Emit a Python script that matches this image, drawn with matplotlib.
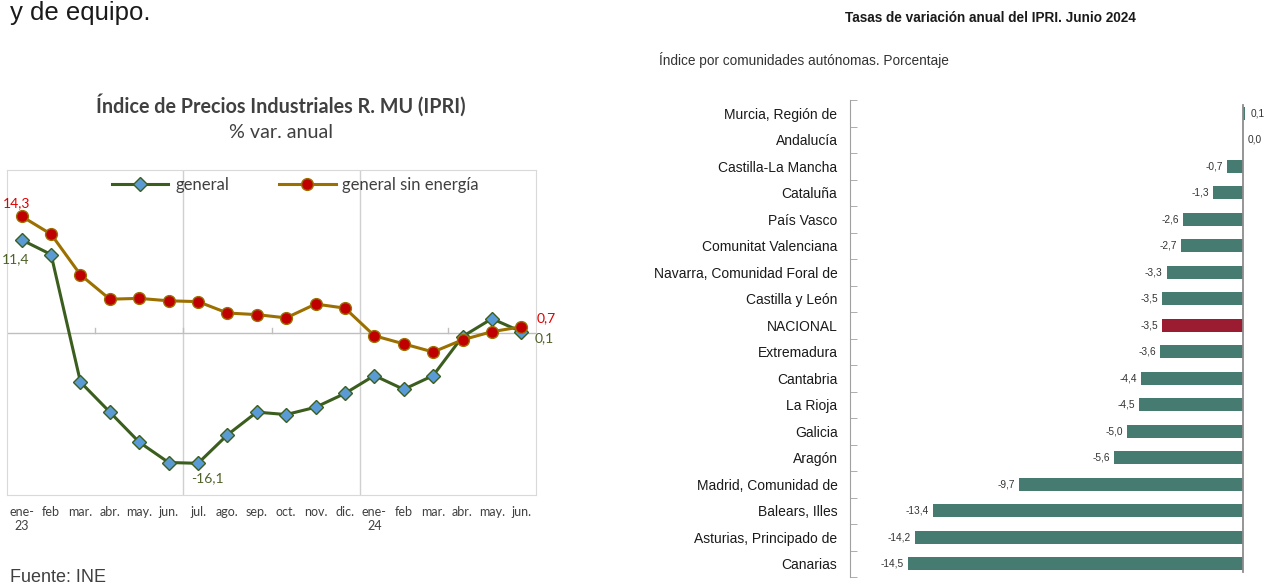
import matplotlib.pyplot as plt
import numpy as np

# serie mensual IPRI Región de Murcia (% var. anual)
meses = ['ene-\n23', 'feb', 'mar.', 'abr.', 'may.', 'jun.', 'jul.', 'ago.', 'sep.', 'oct.', 'nov.', 'dic.',
         'ene-\n24', 'feb', 'mar.', 'abr.', 'may.', 'jun.']
general = [11.4, 9.6, -6.1, -9.8, -13.5, -16.0, -16.1, -12.6, -9.8, -10.1, -9.2, -7.5,
           -5.3, -7.0, -5.3, -0.5, 1.7, 0.1]
sin_energia = [14.3, 12.1, 7.1, 4.1, 4.2, 3.9, 3.8, 2.4, 2.2, 1.8, 3.5, 3.0,
               -0.4, -1.4, -2.4, -0.9, 0.1, 0.7]

# tasas por comunidades, junio 2024
ccaa = ['Murcia, Región de', 'Andalucía', 'Castilla-La Mancha', 'Cataluña', 'País Vasco',
        'Comunitat Valenciana', 'Navarra, Comunidad Foral de', 'Castilla y León', 'NACIONAL',
        'Extremadura', 'Cantabria', 'La Rioja', 'Galicia', 'Aragón', 'Madrid, Comunidad de',
        'Balears, Illes', 'Asturias, Principado de', 'Canarias']
tasas = [0.1, 0.0, -0.7, -1.3, -2.6, -2.7, -3.3, -3.5, -3.5, -3.6, -4.4, -4.5, -5.0, -5.6,
         -9.7, -13.4, -14.2, -14.5]

calibri = ['Lato', 'DejaVu Sans']
narrow = ['Liberation Sans', 'DejaVu Sans']
W, H = 1276, 587


def coma(v):
    return f'{v:.1f}'.replace('.', ',')


fig = plt.figure(figsize=(W / 100, H / 100), dpi=100)

fig.text(10 / W, 1 - 20 / H, 'y de equipo.', fontsize=18.5, family='Liberation Sans',
         color='#1a1a1a', va='baseline')
fig.text(10 / W, 1 - 578 / H, 'Fuente: INE', fontsize=13, family='Liberation Sans',
         color='#404040', va='center')

# ---- grafico de lineas ----
ax = fig.add_axes([7 / W, 92 / H, 529 / W, 325 / H])
x = np.arange(len(meses))
ax.axhline(0, color='#bfbfbf', lw=1, zorder=1)
for g in (5.5, 11.5):
    ax.axvline(g, color='#d0d0d0', lw=1, zorder=1)
for t in (2.5, 5.5, 8.5, 11.5, 14.5):
    ax.plot([t, t], [0, 0.6], color='#bfbfbf', lw=1, zorder=1)

ax.plot(x, general, color='#3b5e1f', lw=2.2, marker='D', ms=7, mfc='#5b9bd5',
        mec='#3b5e1f', mew=1, label='general', zorder=3)
ax.plot(x, sin_energia, color='#9c7000', lw=2.2, marker='o', ms=8.5, mfc='#c00000',
        mec='#9c7000', mew=1, label='general sin energía', zorder=4)

ax.set_xlim(-0.5, 17.5)
ax.set_ylim(-20, 20)
ax.set_yticks([])
ax.set_xticks(x)
ax.set_xticklabels(meses, fontsize=9, color='#404040', family=calibri, linespacing=1.2)
ax.tick_params(axis='x', length=0, pad=8)
for s in ax.spines.values():
    s.set_color('#d9d9d9')

leg = ax.legend(loc='upper center', bbox_to_anchor=(0.545, 1.025), ncol=2, frameon=False,
                prop={'family': calibri, 'size': 12}, handlelength=3.4, columnspacing=3.0,
                handletextpad=0.4)
for t in leg.get_texts():
    t.set_color('#404040')

rojo, verde = '#e00000', '#4f6228'
etiquetas = [(0, sin_energia[0], rojo, (-5, 13)), (0, general[0], verde, (-6, -19)),
             (6, general[6], verde, (9, -15)), (17, sin_energia[17], rojo, (25, 9)),
             (17, general[17], verde, (23, -6))]
for i, v, c, off in etiquetas:
    ax.annotate(coma(v), (i, v), xytext=off, textcoords='offset pixels', ha='center',
                va='center', color=c, fontsize=10, family=calibri, annotation_clip=False)

fig.text(281 / W, 1 - 105 / H, 'Índice de Precios Industriales R. MU (IPRI)', fontsize=14.2,
         fontweight='bold', family=calibri, color='#404040', ha='center', va='center')
fig.text(281 / W, 1 - 132 / H, '% var. anual', fontsize=14.2, family=calibri,
         color='#404040', ha='center', va='center')

# ---- grafico de barras ----
ax2 = fig.add_axes([850 / W, 10 / H, 415 / W, 477 / H])
y = np.arange(len(ccaa))
colores = ['#9b1b30' if c == 'NACIONAL' else '#467b71' for c in ccaa]
ax2.barh(y, tasas, height=0.5, color=colores, zorder=2)
ax2.plot([0, 0], [-0.3, 17.3], color='#8c8c8c', lw=1.3, zorder=3)
ax2.set_xlim(-17, 0.95)
ax2.set_ylim(17.5, -0.5)
ax2.set_xticks([])
ax2.set_yticks(y)
ax2.set_yticklabels(ccaa, fontsize=10, family=narrow, color='#1a1a1a')
ax2.set_yticks(np.arange(-0.5, 18, 1), minor=True)
ax2.tick_params(axis='y', which='major', length=0, pad=9)
ax2.tick_params(axis='y', which='minor', direction='in', length=5, color='#a0a0a0')
for k in ('top', 'right', 'bottom'):
    ax2.spines[k].set_visible(False)
ax2.spines['left'].set_color('#a0a0a0')

for i, v in enumerate(tasas):
    if v < 0:
        ax2.annotate(coma(v), (v, i), xytext=(-4, 0), textcoords='offset pixels', ha='right',
                     va='center', fontsize=7.3, family=narrow, color='#333333')
    else:
        ax2.annotate(coma(v), (v, i), xytext=(5, 0), textcoords='offset pixels', ha='left',
                     va='center', fontsize=7.3, family=narrow, color='#333333')

fig.text(990 / W, 1 - 18 / H, 'Tasas de variación anual del IPRI. Junio 2024', fontsize=9.8,
         fontweight='bold', family=narrow, color='#1a1a1a', ha='center', va='center')
fig.text(659 / W, 1 - 60 / H, 'Índice por comunidades autónomas. Porcentaje', fontsize=9.8,
         family=narrow, color='#333333', ha='left', va='center')

fig.savefig('out.png', dpi=100)
